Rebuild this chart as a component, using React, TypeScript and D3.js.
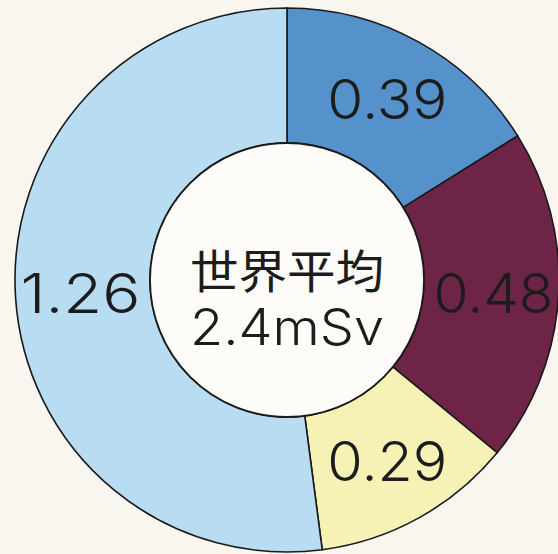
import React from "react";
import * as d3 from "d3";

const categories = ["a", "b", "c", "d"];
const values = [0.39, 0.48, 0.29, 1.26];
const labels = ["0.39", "0.48", "0.29", "1.26"];
const colors = ["#5592cc", "#6d2447", "#f6f1b5", "#b8dcf1"];
const centerLines = ["世界平均", "2.4mSv"];

const W = 558;
const H = 554;
const cx = 287;
const cy = 280;
const outerR = 272;
const innerR = 137;
const labelR = 207;

export default function App() {
  const pie = d3
    .pie<number>()
    .sort(null)
    .value((d) => d);
  const arcs = pie(values);
  const arc = d3.arc<d3.PieArcDatum<number>>().innerRadius(innerR).outerRadius(outerR);
  const labelArc = d3.arc<d3.PieArcDatum<number>>().innerRadius(labelR).outerRadius(labelR);
  const font = "Inter, 'DejaVu Sans', sans-serif";
  return (
    <div style={{ position: "fixed", left: 0, top: 0, width: W, height: H }}>
      <svg width={W} height={H} viewBox={`0 0 ${W} ${H}`} style={{ display: "block" }}>
        <rect x={0} y={0} width={W} height={H} fill="#f9f6ef" />
        <g transform={`translate(${cx},${cy})`}>
          {arcs.map((a, i) => (
            <path
              key={categories[i]}
              d={arc(a) || ""}
              fill={colors[i]}
              stroke="#1a1a1a"
              strokeWidth={1.6}
            />
          ))}
          <circle r={innerR} fill="#fdfcf8" stroke="#1a1a1a" strokeWidth={1.8} />
          {arcs.map((a, i) => {
            const [x, y] = labelArc.centroid(a);
            return (
              <text
                key={"l" + i}
                x={x}
                y={y}
                dy="0.36em"
                textAnchor="middle"
                fontFamily={font}
                fontSize={55}
                fontWeight={300}
                textLength={120}
                lengthAdjust="spacingAndGlyphs"
                fill="#1c1c1c"
              >
                {labels[i]}
              </text>
            );
          })}
          <text
            x={0}
            y={8}
            textAnchor="middle"
            fontFamily="'Noto Sans CJK JP', sans-serif"
            fontSize={46}
            fontWeight={400}
            textLength={194}
            lengthAdjust="spacingAndGlyphs"
            fill="#1c1c1c"
          >
            {centerLines[0]}
          </text>
          <text
            x={0}
            y={65}
            textAnchor="middle"
            fontFamily={font}
            fontSize={50}
            fontWeight={300}
            textLength={194}
            lengthAdjust="spacingAndGlyphs"
            fill="#1c1c1c"
          >
            {centerLines[1]}
          </text>
        </g>
      </svg>
    </div>
  );
}
